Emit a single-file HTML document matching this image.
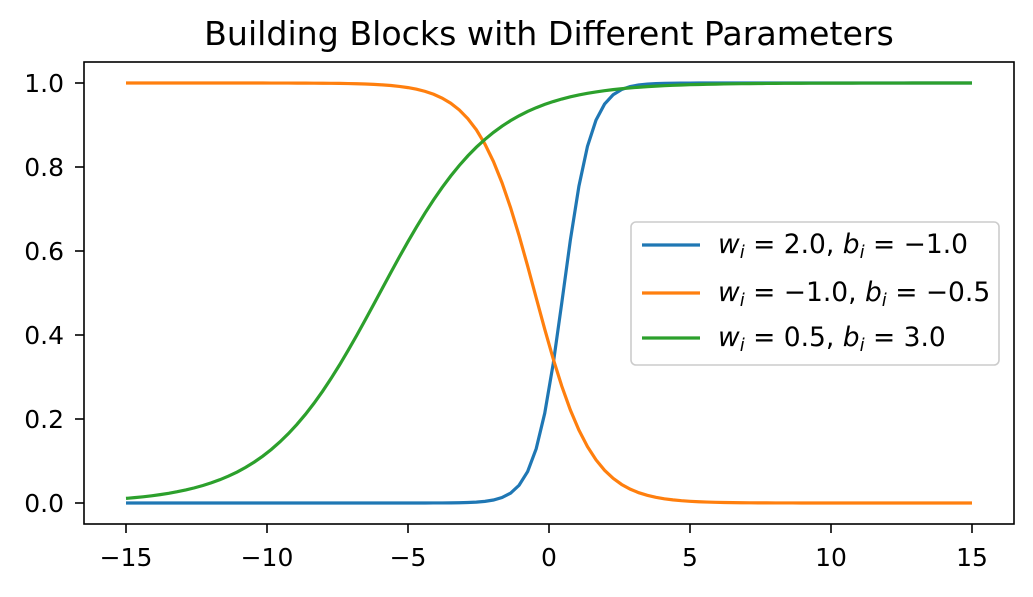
<!DOCTYPE html>
<html><head><meta charset="utf-8"><style>
body{margin:0;background:#fff}
text{font-family:"DejaVu Sans","Liberation Sans",sans-serif;fill:#000}
</style></head><body>
<svg id="s" width="1033" height="592" xmlns="http://www.w3.org/2000/svg">
<rect width="1033" height="592" fill="#fff"/>
<text x="549" y="45" font-size="33.2" text-anchor="middle">Building Blocks with Different Parameters</text>
<g id="curves" fill="none" stroke-width="3.2"></g>
<rect x="84" y="62" width="930" height="462" fill="none" stroke="#000" stroke-width="1.6"/>
<g id="ticks" font-size="25"></g>
<rect x="631" y="222" width="368" height="143" rx="5" fill="#fff" fill-opacity="0.8" stroke="#ccc" stroke-width="1.6"/>
<g stroke-width="3.2">
<line x1="642" y1="245" x2="700" y2="245" stroke="#1f77b4"/>
<line x1="642" y1="293" x2="700" y2="293" stroke="#ff7f0e"/>
<line x1="642" y1="338" x2="700" y2="338" stroke="#2ca02c"/>
</g>
<g font-size="26.5">
<text x="718" y="253"><tspan font-style="italic">w<tspan font-size="18" dy="5">i</tspan></tspan><tspan dy="-5"> = 2.0, </tspan><tspan font-style="italic">b<tspan font-size="18" dy="5">i</tspan></tspan><tspan dy="-5"> = −1.0</tspan></text>
<text x="718" y="301"><tspan font-style="italic">w<tspan font-size="18" dy="5">i</tspan></tspan><tspan dy="-5"> = −1.0, </tspan><tspan font-style="italic">b<tspan font-size="18" dy="5">i</tspan></tspan><tspan dy="-5"> = −0.5</tspan></text>
<text x="718" y="346"><tspan font-style="italic">w<tspan font-size="18" dy="5">i</tspan></tspan><tspan dy="-5"> = 0.5, </tspan><tspan font-style="italic">b<tspan font-size="18" dy="5">i</tspan></tspan><tspan dy="-5"> = 3.0</tspan></text>
</g>
</svg>
<script>
var X=function(v){return 549+v*28.2},Y=function(v){return 503-v*420};
var ns="http://www.w3.org/2000/svg";
var cfg=[[2,-1,"#1f77b4"],[-1,-0.5,"#ff7f0e"],[0.5,3,"#2ca02c"]];
var g=document.getElementById("curves");
cfg.forEach(function(c){var d="";for(var i=0;i<100;i++){var x=-15+30*i/99;var y=1/(1+Math.exp(-(c[0]*x+c[1])));d+=(i?"L":"M")+X(x).toFixed(2)+","+Y(y).toFixed(2);}
var p=document.createElementNS(ns,"path");p.setAttribute("d",d);p.setAttribute("stroke",c[2]);g.appendChild(p);});
var t=document.getElementById("ticks"),h="";
[-15,-10,-5,0,5,10,15].forEach(function(v){var x=X(v);h+='<line x1="'+x+'" y1="524" x2="'+x+'" y2="533" stroke="#000" stroke-width="1.6"/><text x="'+x+'" y="566" text-anchor="middle">'+(v<0?"−"+(-v):v)+'</text>';});
[0,0.2,0.4,0.6,0.8,1.0].forEach(function(v){var y=Y(v);h+='<line x1="75" y1="'+y+'" x2="84" y2="'+y+'" stroke="#000" stroke-width="1.6"/><text x="64" y="'+(y+9)+'" text-anchor="end">'+v.toFixed(1)+'</text>';});
t.innerHTML=h;
</script>
</body></html>
